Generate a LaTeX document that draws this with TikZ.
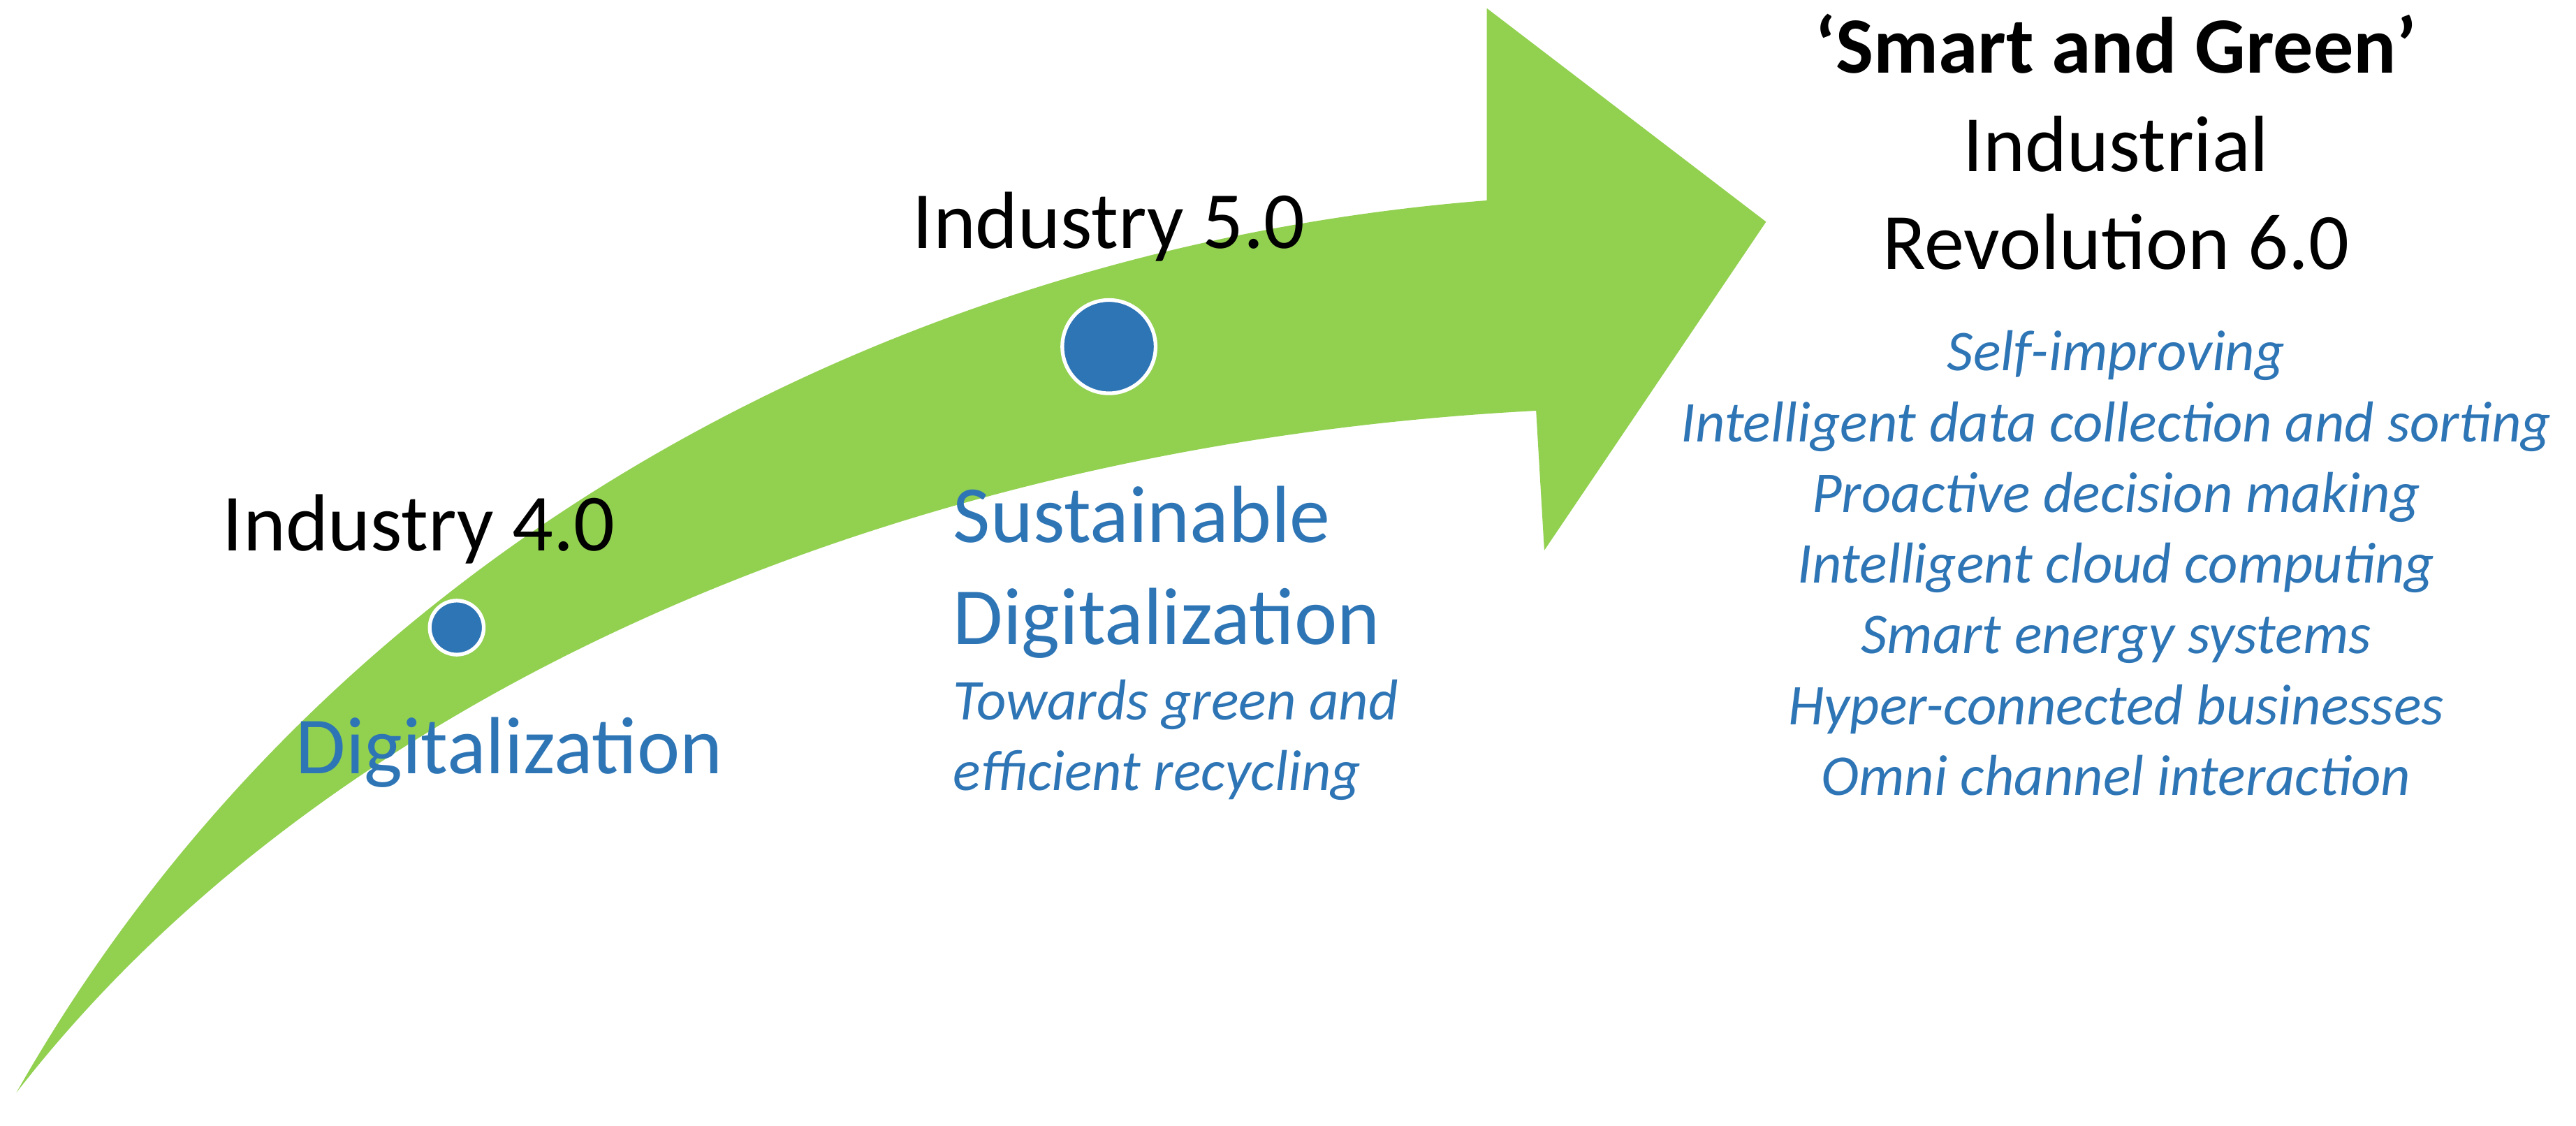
\documentclass[tikz,border=0pt]{standalone}
\usepackage{fontspec}
\setmainfont{Carlito}
\definecolor{agreen}{HTML}{92D050}
\definecolor{ablue}{HTML}{2E75B6}
\begin{document}
\begin{tikzpicture}[x=0.02352cm,y=-0.02352cm,
  big/.style={font=\fontsize{33}{38}\selectfont,inner sep=0pt},
  lst/.style={text=ablue,inner sep=0pt},
  dot/.style={circle,fill=ablue,draw=white,line width=1.5pt,inner sep=0pt}]
\useasboundingbox (0,0) rectangle (1568,685);
\fill[agreen] (10,665) .. controls (200,330) and (550,150) .. (905,122)
  -- (905,5) -- (1075,135) -- (940,335) -- (935,250)
  .. controls (550,270) and (200,420) .. (10,665) -- cycle;
\node[dot,minimum size=38pt] (c5) at (675,211) {};
\node[dot,minimum size=22pt] (c4) at (278,382) {};
\node[big] (i4) at (255,322) {Industry 4.0};
\node[big,text=ablue,font=\fontsize{33}{40}\selectfont] (dg) at (310,458) {Digitalization};
\node[big] (i5) at (675,138) {Industry 5.0};
\node[big,text=ablue,align=left,anchor=base west,font=\fontsize{33}{41.4}\selectfont] (sd) at (580,392) {Sustainable\\Digitalization};
\node[lst,align=left,anchor=base west,font=\fontsize{23.5}{28.7}\selectfont\itshape] (tg) at (580,481) {Towards green and\\efficient recycling};
\node[align=center,inner sep=0pt,font=\fontsize{32.5}{40}\selectfont,anchor=base] (sg) at (1288,164) {\textbf{‘Smart and Green’}\\Industrial\\Revolution 6.0};
\node[lst,align=center,anchor=base,font=\fontsize{23.5}{28.8}\selectfont\itshape] (ls) at (1288,484) {Self-improving\\Intelligent data collection and sorting\\Proactive decision making\\Intelligent cloud computing\\Smart energy systems\\Hyper-connected businesses\\Omni channel interaction};
\end{tikzpicture}
\end{document}
